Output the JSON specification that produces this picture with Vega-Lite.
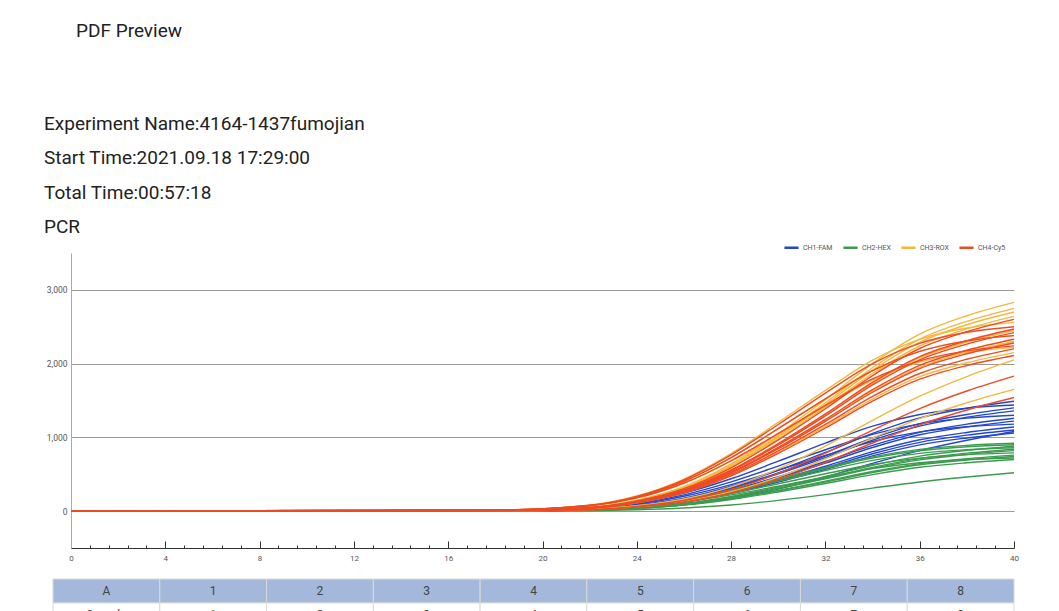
{
"$schema": "https://vega.github.io/schema/vega-lite/v6.json",
"background": "#ffffff",
"padding": {"left": 44, "top": 22, "right": 0, "bottom": 0},
"title": {"text": "PDF Preview", "anchor": "start", "dx": 32, "fontSize": 19, "fontWeight": "normal", "font": "Roboto", "color": "#222222", "offset": 74},
"spacing": 12,
"config": {"view": {"stroke": null}, "font": "Roboto"},
"datasets": {
"curves": [
{"ch":"CH1-FAM","id":"F1","c":0,"v":0},{"ch":"CH1-FAM","id":"F1","c":18,"v":6},{"ch":"CH1-FAM","id":"F1","c":22,"v":28},{"ch":"CH1-FAM","id":"F1","c":24,"v":79},{"ch":"CH1-FAM","id":"F1","c":26,"v":174},{"ch":"CH1-FAM","id":"F1","c":28,"v":337},{"ch":"CH1-FAM","id":"F1","c":30,"v":553},{"ch":"CH1-FAM","id":"F1","c":32,"v":796},{"ch":"CH1-FAM","id":"F1","c":34,"v":1053},{"ch":"CH1-FAM","id":"F1","c":36,"v":1264},{"ch":"CH1-FAM","id":"F1","c":38,"v":1395},{"ch":"CH1-FAM","id":"F1","c":40,"v":1490},
{"ch":"CH1-FAM","id":"F2","c":0,"v":0},{"ch":"CH1-FAM","id":"F2","c":18,"v":9},{"ch":"CH1-FAM","id":"F2","c":22,"v":46},{"ch":"CH1-FAM","id":"F2","c":24,"v":115},{"ch":"CH1-FAM","id":"F2","c":26,"v":245},{"ch":"CH1-FAM","id":"F2","c":28,"v":439},{"ch":"CH1-FAM","id":"F2","c":30,"v":677},{"ch":"CH1-FAM","id":"F2","c":32,"v":922},{"ch":"CH1-FAM","id":"F2","c":34,"v":1152},{"ch":"CH1-FAM","id":"F2","c":36,"v":1310},{"ch":"CH1-FAM","id":"F2","c":38,"v":1397},{"ch":"CH1-FAM","id":"F2","c":40,"v":1440},
{"ch":"CH1-FAM","id":"F3","c":0,"v":0},{"ch":"CH1-FAM","id":"F3","c":18,"v":6},{"ch":"CH1-FAM","id":"F3","c":22,"v":27},{"ch":"CH1-FAM","id":"F3","c":24,"v":74},{"ch":"CH1-FAM","id":"F3","c":26,"v":164},{"ch":"CH1-FAM","id":"F3","c":28,"v":316},{"ch":"CH1-FAM","id":"F3","c":30,"v":519},{"ch":"CH1-FAM","id":"F3","c":32,"v":748},{"ch":"CH1-FAM","id":"F3","c":34,"v":990},{"ch":"CH1-FAM","id":"F3","c":36,"v":1187},{"ch":"CH1-FAM","id":"F3","c":38,"v":1310},{"ch":"CH1-FAM","id":"F3","c":40,"v":1400},
{"ch":"CH1-FAM","id":"F4","c":0,"v":0},{"ch":"CH1-FAM","id":"F4","c":18,"v":5},{"ch":"CH1-FAM","id":"F4","c":22,"v":26},{"ch":"CH1-FAM","id":"F4","c":24,"v":72},{"ch":"CH1-FAM","id":"F4","c":26,"v":159},{"ch":"CH1-FAM","id":"F4","c":28,"v":307},{"ch":"CH1-FAM","id":"F4","c":30,"v":505},{"ch":"CH1-FAM","id":"F4","c":32,"v":726},{"ch":"CH1-FAM","id":"F4","c":34,"v":962},{"ch":"CH1-FAM","id":"F4","c":36,"v":1153},{"ch":"CH1-FAM","id":"F4","c":38,"v":1273},{"ch":"CH1-FAM","id":"F4","c":40,"v":1360},
{"ch":"CH1-FAM","id":"F5","c":0,"v":0},{"ch":"CH1-FAM","id":"F5","c":18,"v":8},{"ch":"CH1-FAM","id":"F5","c":22,"v":42},{"ch":"CH1-FAM","id":"F5","c":24,"v":104},{"ch":"CH1-FAM","id":"F5","c":26,"v":221},{"ch":"CH1-FAM","id":"F5","c":28,"v":397},{"ch":"CH1-FAM","id":"F5","c":30,"v":611},{"ch":"CH1-FAM","id":"F5","c":32,"v":832},{"ch":"CH1-FAM","id":"F5","c":34,"v":1040},{"ch":"CH1-FAM","id":"F5","c":36,"v":1183},{"ch":"CH1-FAM","id":"F5","c":38,"v":1261},{"ch":"CH1-FAM","id":"F5","c":40,"v":1300},
{"ch":"CH1-FAM","id":"F6","c":0,"v":0},{"ch":"CH1-FAM","id":"F6","c":18,"v":5},{"ch":"CH1-FAM","id":"F6","c":22,"v":24},{"ch":"CH1-FAM","id":"F6","c":24,"v":67},{"ch":"CH1-FAM","id":"F6","c":26,"v":147},{"ch":"CH1-FAM","id":"F6","c":28,"v":285},{"ch":"CH1-FAM","id":"F6","c":30,"v":467},{"ch":"CH1-FAM","id":"F6","c":32,"v":673},{"ch":"CH1-FAM","id":"F6","c":34,"v":891},{"ch":"CH1-FAM","id":"F6","c":36,"v":1068},{"ch":"CH1-FAM","id":"F6","c":38,"v":1179},{"ch":"CH1-FAM","id":"F6","c":40,"v":1260},
{"ch":"CH1-FAM","id":"F7","c":0,"v":0},{"ch":"CH1-FAM","id":"F7","c":18,"v":5},{"ch":"CH1-FAM","id":"F7","c":22,"v":23},{"ch":"CH1-FAM","id":"F7","c":24,"v":65},{"ch":"CH1-FAM","id":"F7","c":26,"v":143},{"ch":"CH1-FAM","id":"F7","c":28,"v":276},{"ch":"CH1-FAM","id":"F7","c":30,"v":453},{"ch":"CH1-FAM","id":"F7","c":32,"v":651},{"ch":"CH1-FAM","id":"F7","c":34,"v":863},{"ch":"CH1-FAM","id":"F7","c":36,"v":1035},{"ch":"CH1-FAM","id":"F7","c":38,"v":1142},{"ch":"CH1-FAM","id":"F7","c":40,"v":1220},
{"ch":"CH1-FAM","id":"F8","c":0,"v":0},{"ch":"CH1-FAM","id":"F8","c":18,"v":7},{"ch":"CH1-FAM","id":"F8","c":22,"v":38},{"ch":"CH1-FAM","id":"F8","c":24,"v":94},{"ch":"CH1-FAM","id":"F8","c":26,"v":201},{"ch":"CH1-FAM","id":"F8","c":28,"v":360},{"ch":"CH1-FAM","id":"F8","c":30,"v":555},{"ch":"CH1-FAM","id":"F8","c":32,"v":755},{"ch":"CH1-FAM","id":"F8","c":34,"v":944},{"ch":"CH1-FAM","id":"F8","c":36,"v":1074},{"ch":"CH1-FAM","id":"F8","c":38,"v":1145},{"ch":"CH1-FAM","id":"F8","c":40,"v":1180},
{"ch":"CH1-FAM","id":"F9","c":0,"v":0},{"ch":"CH1-FAM","id":"F9","c":18,"v":5},{"ch":"CH1-FAM","id":"F9","c":22,"v":22},{"ch":"CH1-FAM","id":"F9","c":24,"v":60},{"ch":"CH1-FAM","id":"F9","c":26,"v":133},{"ch":"CH1-FAM","id":"F9","c":28,"v":258},{"ch":"CH1-FAM","id":"F9","c":30,"v":423},{"ch":"CH1-FAM","id":"F9","c":32,"v":609},{"ch":"CH1-FAM","id":"F9","c":34,"v":806},{"ch":"CH1-FAM","id":"F9","c":36,"v":967},{"ch":"CH1-FAM","id":"F9","c":38,"v":1067},{"ch":"CH1-FAM","id":"F9","c":40,"v":1140},
{"ch":"CH1-FAM","id":"F10","c":0,"v":0},{"ch":"CH1-FAM","id":"F10","c":18,"v":4},{"ch":"CH1-FAM","id":"F10","c":22,"v":21},{"ch":"CH1-FAM","id":"F10","c":24,"v":58},{"ch":"CH1-FAM","id":"F10","c":26,"v":129},{"ch":"CH1-FAM","id":"F10","c":28,"v":249},{"ch":"CH1-FAM","id":"F10","c":30,"v":408},{"ch":"CH1-FAM","id":"F10","c":32,"v":587},{"ch":"CH1-FAM","id":"F10","c":34,"v":778},{"ch":"CH1-FAM","id":"F10","c":36,"v":933},{"ch":"CH1-FAM","id":"F10","c":38,"v":1030},{"ch":"CH1-FAM","id":"F10","c":40,"v":1100},
{"ch":"CH1-FAM","id":"F11","c":0,"v":0},{"ch":"CH1-FAM","id":"F11","c":18,"v":3},{"ch":"CH1-FAM","id":"F11","c":22,"v":13},{"ch":"CH1-FAM","id":"F11","c":24,"v":38},{"ch":"CH1-FAM","id":"F11","c":26,"v":86},{"ch":"CH1-FAM","id":"F11","c":28,"v":173},{"ch":"CH1-FAM","id":"F11","c":30,"v":302},{"ch":"CH1-FAM","id":"F11","c":32,"v":464},{"ch":"CH1-FAM","id":"F11","c":34,"v":648},{"ch":"CH1-FAM","id":"F11","c":36,"v":821},{"ch":"CH1-FAM","id":"F11","c":38,"v":961},{"ch":"CH1-FAM","id":"F11","c":40,"v":1080},
{"ch":"CH1-FAM","id":"F12","c":0,"v":0},{"ch":"CH1-FAM","id":"F12","c":18,"v":4},{"ch":"CH1-FAM","id":"F12","c":22,"v":20},{"ch":"CH1-FAM","id":"F12","c":24,"v":56},{"ch":"CH1-FAM","id":"F12","c":26,"v":124},{"ch":"CH1-FAM","id":"F12","c":28,"v":240},{"ch":"CH1-FAM","id":"F12","c":30,"v":393},{"ch":"CH1-FAM","id":"F12","c":32,"v":566},{"ch":"CH1-FAM","id":"F12","c":34,"v":749},{"ch":"CH1-FAM","id":"F12","c":36,"v":899},{"ch":"CH1-FAM","id":"F12","c":38,"v":992},{"ch":"CH1-FAM","id":"F12","c":40,"v":1060},
{"ch":"CH2-HEX","id":"H1","c":0,"v":0},{"ch":"CH2-HEX","id":"H1","c":18,"v":6},{"ch":"CH2-HEX","id":"H1","c":22,"v":29},{"ch":"CH2-HEX","id":"H1","c":24,"v":74},{"ch":"CH2-HEX","id":"H1","c":26,"v":156},{"ch":"CH2-HEX","id":"H1","c":28,"v":281},{"ch":"CH2-HEX","id":"H1","c":30,"v":432},{"ch":"CH2-HEX","id":"H1","c":32,"v":589},{"ch":"CH2-HEX","id":"H1","c":34,"v":736},{"ch":"CH2-HEX","id":"H1","c":36,"v":837},{"ch":"CH2-HEX","id":"H1","c":38,"v":892},{"ch":"CH2-HEX","id":"H1","c":40,"v":920},
{"ch":"CH2-HEX","id":"H2","c":0,"v":0},{"ch":"CH2-HEX","id":"H2","c":18,"v":5},{"ch":"CH2-HEX","id":"H2","c":22,"v":29},{"ch":"CH2-HEX","id":"H2","c":24,"v":72},{"ch":"CH2-HEX","id":"H2","c":26,"v":153},{"ch":"CH2-HEX","id":"H2","c":28,"v":275},{"ch":"CH2-HEX","id":"H2","c":30,"v":423},{"ch":"CH2-HEX","id":"H2","c":32,"v":576},{"ch":"CH2-HEX","id":"H2","c":34,"v":720},{"ch":"CH2-HEX","id":"H2","c":36,"v":819},{"ch":"CH2-HEX","id":"H2","c":38,"v":873},{"ch":"CH2-HEX","id":"H2","c":40,"v":900},
{"ch":"CH2-HEX","id":"H3","c":0,"v":0},{"ch":"CH2-HEX","id":"H3","c":18,"v":4},{"ch":"CH2-HEX","id":"H3","c":22,"v":17},{"ch":"CH2-HEX","id":"H3","c":24,"v":47},{"ch":"CH2-HEX","id":"H3","c":26,"v":103},{"ch":"CH2-HEX","id":"H3","c":28,"v":199},{"ch":"CH2-HEX","id":"H3","c":30,"v":326},{"ch":"CH2-HEX","id":"H3","c":32,"v":470},{"ch":"CH2-HEX","id":"H3","c":34,"v":622},{"ch":"CH2-HEX","id":"H3","c":36,"v":746},{"ch":"CH2-HEX","id":"H3","c":38,"v":824},{"ch":"CH2-HEX","id":"H3","c":40,"v":880},
{"ch":"CH2-HEX","id":"H4","c":0,"v":0},{"ch":"CH2-HEX","id":"H4","c":18,"v":5},{"ch":"CH2-HEX","id":"H4","c":22,"v":28},{"ch":"CH2-HEX","id":"H4","c":24,"v":69},{"ch":"CH2-HEX","id":"H4","c":26,"v":146},{"ch":"CH2-HEX","id":"H4","c":28,"v":262},{"ch":"CH2-HEX","id":"H4","c":30,"v":404},{"ch":"CH2-HEX","id":"H4","c":32,"v":550},{"ch":"CH2-HEX","id":"H4","c":34,"v":688},{"ch":"CH2-HEX","id":"H4","c":36,"v":783},{"ch":"CH2-HEX","id":"H4","c":38,"v":834},{"ch":"CH2-HEX","id":"H4","c":40,"v":860},
{"ch":"CH2-HEX","id":"H5","c":0,"v":0},{"ch":"CH2-HEX","id":"H5","c":18,"v":3},{"ch":"CH2-HEX","id":"H5","c":22,"v":16},{"ch":"CH2-HEX","id":"H5","c":24,"v":45},{"ch":"CH2-HEX","id":"H5","c":26,"v":98},{"ch":"CH2-HEX","id":"H5","c":28,"v":190},{"ch":"CH2-HEX","id":"H5","c":30,"v":312},{"ch":"CH2-HEX","id":"H5","c":32,"v":449},{"ch":"CH2-HEX","id":"H5","c":34,"v":594},{"ch":"CH2-HEX","id":"H5","c":36,"v":712},{"ch":"CH2-HEX","id":"H5","c":38,"v":786},{"ch":"CH2-HEX","id":"H5","c":40,"v":840},
{"ch":"CH2-HEX","id":"H6","c":0,"v":0},{"ch":"CH2-HEX","id":"H6","c":18,"v":3},{"ch":"CH2-HEX","id":"H6","c":22,"v":16},{"ch":"CH2-HEX","id":"H6","c":24,"v":43},{"ch":"CH2-HEX","id":"H6","c":26,"v":96},{"ch":"CH2-HEX","id":"H6","c":28,"v":185},{"ch":"CH2-HEX","id":"H6","c":30,"v":304},{"ch":"CH2-HEX","id":"H6","c":32,"v":438},{"ch":"CH2-HEX","id":"H6","c":34,"v":580},{"ch":"CH2-HEX","id":"H6","c":36,"v":695},{"ch":"CH2-HEX","id":"H6","c":38,"v":768},{"ch":"CH2-HEX","id":"H6","c":40,"v":820},
{"ch":"CH2-HEX","id":"H7","c":0,"v":0},{"ch":"CH2-HEX","id":"H7","c":18,"v":5},{"ch":"CH2-HEX","id":"H7","c":22,"v":25},{"ch":"CH2-HEX","id":"H7","c":24,"v":63},{"ch":"CH2-HEX","id":"H7","c":26,"v":134},{"ch":"CH2-HEX","id":"H7","c":28,"v":241},{"ch":"CH2-HEX","id":"H7","c":30,"v":371},{"ch":"CH2-HEX","id":"H7","c":32,"v":506},{"ch":"CH2-HEX","id":"H7","c":34,"v":632},{"ch":"CH2-HEX","id":"H7","c":36,"v":719},{"ch":"CH2-HEX","id":"H7","c":38,"v":766},{"ch":"CH2-HEX","id":"H7","c":40,"v":790},
{"ch":"CH2-HEX","id":"H8","c":0,"v":0},{"ch":"CH2-HEX","id":"H8","c":18,"v":3},{"ch":"CH2-HEX","id":"H8","c":22,"v":14},{"ch":"CH2-HEX","id":"H8","c":24,"v":40},{"ch":"CH2-HEX","id":"H8","c":26,"v":89},{"ch":"CH2-HEX","id":"H8","c":28,"v":172},{"ch":"CH2-HEX","id":"H8","c":30,"v":282},{"ch":"CH2-HEX","id":"H8","c":32,"v":406},{"ch":"CH2-HEX","id":"H8","c":34,"v":537},{"ch":"CH2-HEX","id":"H8","c":36,"v":644},{"ch":"CH2-HEX","id":"H8","c":38,"v":711},{"ch":"CH2-HEX","id":"H8","c":40,"v":760},
{"ch":"CH2-HEX","id":"H9","c":0,"v":0},{"ch":"CH2-HEX","id":"H9","c":18,"v":3},{"ch":"CH2-HEX","id":"H9","c":22,"v":14},{"ch":"CH2-HEX","id":"H9","c":24,"v":39},{"ch":"CH2-HEX","id":"H9","c":26,"v":87},{"ch":"CH2-HEX","id":"H9","c":28,"v":167},{"ch":"CH2-HEX","id":"H9","c":30,"v":275},{"ch":"CH2-HEX","id":"H9","c":32,"v":395},{"ch":"CH2-HEX","id":"H9","c":34,"v":523},{"ch":"CH2-HEX","id":"H9","c":36,"v":628},{"ch":"CH2-HEX","id":"H9","c":38,"v":693},{"ch":"CH2-HEX","id":"H9","c":40,"v":740},
{"ch":"CH2-HEX","id":"H10","c":0,"v":0},{"ch":"CH2-HEX","id":"H10","c":18,"v":4},{"ch":"CH2-HEX","id":"H10","c":22,"v":23},{"ch":"CH2-HEX","id":"H10","c":24,"v":58},{"ch":"CH2-HEX","id":"H10","c":26,"v":122},{"ch":"CH2-HEX","id":"H10","c":28,"v":220},{"ch":"CH2-HEX","id":"H10","c":30,"v":338},{"ch":"CH2-HEX","id":"H10","c":32,"v":461},{"ch":"CH2-HEX","id":"H10","c":34,"v":576},{"ch":"CH2-HEX","id":"H10","c":36,"v":655},{"ch":"CH2-HEX","id":"H10","c":38,"v":698},{"ch":"CH2-HEX","id":"H10","c":40,"v":720},
{"ch":"CH2-HEX","id":"H11","c":0,"v":0},{"ch":"CH2-HEX","id":"H11","c":18,"v":3},{"ch":"CH2-HEX","id":"H11","c":22,"v":13},{"ch":"CH2-HEX","id":"H11","c":24,"v":37},{"ch":"CH2-HEX","id":"H11","c":26,"v":82},{"ch":"CH2-HEX","id":"H11","c":28,"v":158},{"ch":"CH2-HEX","id":"H11","c":30,"v":260},{"ch":"CH2-HEX","id":"H11","c":32,"v":374},{"ch":"CH2-HEX","id":"H11","c":34,"v":495},{"ch":"CH2-HEX","id":"H11","c":36,"v":594},{"ch":"CH2-HEX","id":"H11","c":38,"v":655},{"ch":"CH2-HEX","id":"H11","c":40,"v":700},
{"ch":"CH2-HEX","id":"H12","c":0,"v":0},{"ch":"CH2-HEX","id":"H12","c":18,"v":2},{"ch":"CH2-HEX","id":"H12","c":22,"v":6},{"ch":"CH2-HEX","id":"H12","c":24,"v":18},{"ch":"CH2-HEX","id":"H12","c":26,"v":42},{"ch":"CH2-HEX","id":"H12","c":28,"v":83},{"ch":"CH2-HEX","id":"H12","c":30,"v":146},{"ch":"CH2-HEX","id":"H12","c":32,"v":224},{"ch":"CH2-HEX","id":"H12","c":34,"v":312},{"ch":"CH2-HEX","id":"H12","c":36,"v":395},{"ch":"CH2-HEX","id":"H12","c":38,"v":463},{"ch":"CH2-HEX","id":"H12","c":40,"v":520},
{"ch":"CH3-ROX","id":"R1","c":0,"v":0},{"ch":"CH3-ROX","id":"R1","c":18,"v":11},{"ch":"CH3-ROX","id":"R1","c":22,"v":54},{"ch":"CH3-ROX","id":"R1","c":24,"v":150},{"ch":"CH3-ROX","id":"R1","c":26,"v":331},{"ch":"CH3-ROX","id":"R1","c":28,"v":640},{"ch":"CH3-ROX","id":"R1","c":30,"v":1050},{"ch":"CH3-ROX","id":"R1","c":32,"v":1511},{"ch":"CH3-ROX","id":"R1","c":34,"v":2001},{"ch":"CH3-ROX","id":"R1","c":36,"v":2400},{"ch":"CH3-ROX","id":"R1","c":38,"v":2649},{"ch":"CH3-ROX","id":"R1","c":40,"v":2830},
{"ch":"CH3-ROX","id":"R2","c":0,"v":0},{"ch":"CH3-ROX","id":"R2","c":18,"v":11},{"ch":"CH3-ROX","id":"R2","c":22,"v":52},{"ch":"CH3-ROX","id":"R2","c":24,"v":146},{"ch":"CH3-ROX","id":"R2","c":26,"v":322},{"ch":"CH3-ROX","id":"R2","c":28,"v":622},{"ch":"CH3-ROX","id":"R2","c":30,"v":1020},{"ch":"CH3-ROX","id":"R2","c":32,"v":1469},{"ch":"CH3-ROX","id":"R2","c":34,"v":1944},{"ch":"CH3-ROX","id":"R2","c":36,"v":2332},{"ch":"CH3-ROX","id":"R2","c":38,"v":2574},{"ch":"CH3-ROX","id":"R2","c":40,"v":2750},
{"ch":"CH3-ROX","id":"R3","c":0,"v":0},{"ch":"CH3-ROX","id":"R3","c":18,"v":11},{"ch":"CH3-ROX","id":"R3","c":22,"v":51},{"ch":"CH3-ROX","id":"R3","c":24,"v":143},{"ch":"CH3-ROX","id":"R3","c":26,"v":316},{"ch":"CH3-ROX","id":"R3","c":28,"v":610},{"ch":"CH3-ROX","id":"R3","c":30,"v":1002},{"ch":"CH3-ROX","id":"R3","c":32,"v":1442},{"ch":"CH3-ROX","id":"R3","c":34,"v":1909},{"ch":"CH3-ROX","id":"R3","c":36,"v":2290},{"ch":"CH3-ROX","id":"R3","c":38,"v":2527},{"ch":"CH3-ROX","id":"R3","c":40,"v":2700},
{"ch":"CH3-ROX","id":"R4","c":0,"v":0},{"ch":"CH3-ROX","id":"R4","c":18,"v":11},{"ch":"CH3-ROX","id":"R4","c":22,"v":50},{"ch":"CH3-ROX","id":"R4","c":24,"v":140},{"ch":"CH3-ROX","id":"R4","c":26,"v":309},{"ch":"CH3-ROX","id":"R4","c":28,"v":597},{"ch":"CH3-ROX","id":"R4","c":30,"v":979},{"ch":"CH3-ROX","id":"R4","c":32,"v":1410},{"ch":"CH3-ROX","id":"R4","c":34,"v":1866},{"ch":"CH3-ROX","id":"R4","c":36,"v":2239},{"ch":"CH3-ROX","id":"R4","c":38,"v":2471},{"ch":"CH3-ROX","id":"R4","c":40,"v":2640},
{"ch":"CH3-ROX","id":"R5","c":0,"v":0},{"ch":"CH3-ROX","id":"R5","c":18,"v":15},{"ch":"CH3-ROX","id":"R5","c":22,"v":82},{"ch":"CH3-ROX","id":"R5","c":24,"v":205},{"ch":"CH3-ROX","id":"R5","c":26,"v":435},{"ch":"CH3-ROX","id":"R5","c":28,"v":781},{"ch":"CH3-ROX","id":"R5","c":30,"v":1203},{"ch":"CH3-ROX","id":"R5","c":32,"v":1638},{"ch":"CH3-ROX","id":"R5","c":34,"v":2048},{"ch":"CH3-ROX","id":"R5","c":36,"v":2330},{"ch":"CH3-ROX","id":"R5","c":38,"v":2483},{"ch":"CH3-ROX","id":"R5","c":40,"v":2560},
{"ch":"CH3-ROX","id":"R6","c":0,"v":0},{"ch":"CH3-ROX","id":"R6","c":18,"v":10},{"ch":"CH3-ROX","id":"R6","c":22,"v":47},{"ch":"CH3-ROX","id":"R6","c":24,"v":130},{"ch":"CH3-ROX","id":"R6","c":26,"v":287},{"ch":"CH3-ROX","id":"R6","c":28,"v":554},{"ch":"CH3-ROX","id":"R6","c":30,"v":909},{"ch":"CH3-ROX","id":"R6","c":32,"v":1308},{"ch":"CH3-ROX","id":"R6","c":34,"v":1732},{"ch":"CH3-ROX","id":"R6","c":36,"v":2078},{"ch":"CH3-ROX","id":"R6","c":38,"v":2293},{"ch":"CH3-ROX","id":"R6","c":40,"v":2450},
{"ch":"CH3-ROX","id":"R7","c":0,"v":0},{"ch":"CH3-ROX","id":"R7","c":18,"v":14},{"ch":"CH3-ROX","id":"R7","c":22,"v":76},{"ch":"CH3-ROX","id":"R7","c":24,"v":190},{"ch":"CH3-ROX","id":"R7","c":26,"v":405},{"ch":"CH3-ROX","id":"R7","c":28,"v":726},{"ch":"CH3-ROX","id":"R7","c":30,"v":1119},{"ch":"CH3-ROX","id":"R7","c":32,"v":1523},{"ch":"CH3-ROX","id":"R7","c":34,"v":1904},{"ch":"CH3-ROX","id":"R7","c":36,"v":2166},{"ch":"CH3-ROX","id":"R7","c":38,"v":2309},{"ch":"CH3-ROX","id":"R7","c":40,"v":2380},
{"ch":"CH3-ROX","id":"R8","c":0,"v":0},{"ch":"CH3-ROX","id":"R8","c":18,"v":9},{"ch":"CH3-ROX","id":"R8","c":22,"v":44},{"ch":"CH3-ROX","id":"R8","c":24,"v":122},{"ch":"CH3-ROX","id":"R8","c":26,"v":269},{"ch":"CH3-ROX","id":"R8","c":28,"v":520},{"ch":"CH3-ROX","id":"R8","c":30,"v":853},{"ch":"CH3-ROX","id":"R8","c":32,"v":1228},{"ch":"CH3-ROX","id":"R8","c":34,"v":1626},{"ch":"CH3-ROX","id":"R8","c":36,"v":1950},{"ch":"CH3-ROX","id":"R8","c":38,"v":2153},{"ch":"CH3-ROX","id":"R8","c":40,"v":2300},
{"ch":"CH3-ROX","id":"R9","c":0,"v":0},{"ch":"CH3-ROX","id":"R9","c":18,"v":13},{"ch":"CH3-ROX","id":"R9","c":22,"v":71},{"ch":"CH3-ROX","id":"R9","c":24,"v":178},{"ch":"CH3-ROX","id":"R9","c":26,"v":377},{"ch":"CH3-ROX","id":"R9","c":28,"v":677},{"ch":"CH3-ROX","id":"R9","c":30,"v":1043},{"ch":"CH3-ROX","id":"R9","c":32,"v":1421},{"ch":"CH3-ROX","id":"R9","c":34,"v":1776},{"ch":"CH3-ROX","id":"R9","c":36,"v":2020},{"ch":"CH3-ROX","id":"R9","c":38,"v":2153},{"ch":"CH3-ROX","id":"R9","c":40,"v":2220},
{"ch":"CH3-ROX","id":"R10","c":0,"v":0},{"ch":"CH3-ROX","id":"R10","c":18,"v":9},{"ch":"CH3-ROX","id":"R10","c":22,"v":41},{"ch":"CH3-ROX","id":"R10","c":24,"v":114},{"ch":"CH3-ROX","id":"R10","c":26,"v":252},{"ch":"CH3-ROX","id":"R10","c":28,"v":486},{"ch":"CH3-ROX","id":"R10","c":30,"v":798},{"ch":"CH3-ROX","id":"R10","c":32,"v":1148},{"ch":"CH3-ROX","id":"R10","c":34,"v":1520},{"ch":"CH3-ROX","id":"R10","c":36,"v":1823},{"ch":"CH3-ROX","id":"R10","c":38,"v":2012},{"ch":"CH3-ROX","id":"R10","c":40,"v":2150},
{"ch":"CH3-ROX","id":"R11","c":0,"v":0},{"ch":"CH3-ROX","id":"R11","c":18,"v":6},{"ch":"CH3-ROX","id":"R11","c":22,"v":25},{"ch":"CH3-ROX","id":"R11","c":24,"v":72},{"ch":"CH3-ROX","id":"R11","c":26,"v":164},{"ch":"CH3-ROX","id":"R11","c":28,"v":328},{"ch":"CH3-ROX","id":"R11","c":30,"v":574},{"ch":"CH3-ROX","id":"R11","c":32,"v":882},{"ch":"CH3-ROX","id":"R11","c":34,"v":1230},{"ch":"CH3-ROX","id":"R11","c":36,"v":1558},{"ch":"CH3-ROX","id":"R11","c":38,"v":1825},{"ch":"CH3-ROX","id":"R11","c":40,"v":2050},
{"ch":"CH3-ROX","id":"R12","c":0,"v":0},{"ch":"CH3-ROX","id":"R12","c":18,"v":5},{"ch":"CH3-ROX","id":"R12","c":22,"v":20},{"ch":"CH3-ROX","id":"R12","c":24,"v":58},{"ch":"CH3-ROX","id":"R12","c":26,"v":132},{"ch":"CH3-ROX","id":"R12","c":28,"v":264},{"ch":"CH3-ROX","id":"R12","c":30,"v":462},{"ch":"CH3-ROX","id":"R12","c":32,"v":710},{"ch":"CH3-ROX","id":"R12","c":34,"v":990},{"ch":"CH3-ROX","id":"R12","c":36,"v":1254},{"ch":"CH3-ROX","id":"R12","c":38,"v":1469},{"ch":"CH3-ROX","id":"R12","c":40,"v":1650},
{"ch":"CH4-Cy5","id":"C1","c":0,"v":0},{"ch":"CH4-Cy5","id":"C1","c":18,"v":10},{"ch":"CH4-Cy5","id":"C1","c":22,"v":49},{"ch":"CH4-Cy5","id":"C1","c":24,"v":138},{"ch":"CH4-Cy5","id":"C1","c":26,"v":304},{"ch":"CH4-Cy5","id":"C1","c":28,"v":588},{"ch":"CH4-Cy5","id":"C1","c":30,"v":965},{"ch":"CH4-Cy5","id":"C1","c":32,"v":1388},{"ch":"CH4-Cy5","id":"C1","c":34,"v":1838},{"ch":"CH4-Cy5","id":"C1","c":36,"v":2205},{"ch":"CH4-Cy5","id":"C1","c":38,"v":2434},{"ch":"CH4-Cy5","id":"C1","c":40,"v":2600},
{"ch":"CH4-Cy5","id":"C2","c":0,"v":0},{"ch":"CH4-Cy5","id":"C2","c":18,"v":15},{"ch":"CH4-Cy5","id":"C2","c":22,"v":80},{"ch":"CH4-Cy5","id":"C2","c":24,"v":200},{"ch":"CH4-Cy5","id":"C2","c":26,"v":425},{"ch":"CH4-Cy5","id":"C2","c":28,"v":763},{"ch":"CH4-Cy5","id":"C2","c":30,"v":1175},{"ch":"CH4-Cy5","id":"C2","c":32,"v":1600},{"ch":"CH4-Cy5","id":"C2","c":34,"v":2000},{"ch":"CH4-Cy5","id":"C2","c":36,"v":2275},{"ch":"CH4-Cy5","id":"C2","c":38,"v":2425},{"ch":"CH4-Cy5","id":"C2","c":40,"v":2500},
{"ch":"CH4-Cy5","id":"C3","c":0,"v":0},{"ch":"CH4-Cy5","id":"C3","c":18,"v":10},{"ch":"CH4-Cy5","id":"C3","c":22,"v":47},{"ch":"CH4-Cy5","id":"C3","c":24,"v":131},{"ch":"CH4-Cy5","id":"C3","c":26,"v":289},{"ch":"CH4-Cy5","id":"C3","c":28,"v":558},{"ch":"CH4-Cy5","id":"C3","c":30,"v":916},{"ch":"CH4-Cy5","id":"C3","c":32,"v":1319},{"ch":"CH4-Cy5","id":"C3","c":34,"v":1746},{"ch":"CH4-Cy5","id":"C3","c":36,"v":2095},{"ch":"CH4-Cy5","id":"C3","c":38,"v":2312},{"ch":"CH4-Cy5","id":"C3","c":40,"v":2470},
{"ch":"CH4-Cy5","id":"C4","c":0,"v":0},{"ch":"CH4-Cy5","id":"C4","c":18,"v":10},{"ch":"CH4-Cy5","id":"C4","c":22,"v":46},{"ch":"CH4-Cy5","id":"C4","c":24,"v":128},{"ch":"CH4-Cy5","id":"C4","c":26,"v":283},{"ch":"CH4-Cy5","id":"C4","c":28,"v":547},{"ch":"CH4-Cy5","id":"C4","c":30,"v":898},{"ch":"CH4-Cy5","id":"C4","c":32,"v":1292},{"ch":"CH4-Cy5","id":"C4","c":34,"v":1711},{"ch":"CH4-Cy5","id":"C4","c":36,"v":2052},{"ch":"CH4-Cy5","id":"C4","c":38,"v":2265},{"ch":"CH4-Cy5","id":"C4","c":40,"v":2420},
{"ch":"CH4-Cy5","id":"C5","c":0,"v":0},{"ch":"CH4-Cy5","id":"C5","c":18,"v":14},{"ch":"CH4-Cy5","id":"C5","c":22,"v":76},{"ch":"CH4-Cy5","id":"C5","c":24,"v":190},{"ch":"CH4-Cy5","id":"C5","c":26,"v":405},{"ch":"CH4-Cy5","id":"C5","c":28,"v":726},{"ch":"CH4-Cy5","id":"C5","c":30,"v":1119},{"ch":"CH4-Cy5","id":"C5","c":32,"v":1523},{"ch":"CH4-Cy5","id":"C5","c":34,"v":1904},{"ch":"CH4-Cy5","id":"C5","c":36,"v":2166},{"ch":"CH4-Cy5","id":"C5","c":38,"v":2309},{"ch":"CH4-Cy5","id":"C5","c":40,"v":2380},
{"ch":"CH4-Cy5","id":"C6","c":0,"v":0},{"ch":"CH4-Cy5","id":"C6","c":18,"v":9},{"ch":"CH4-Cy5","id":"C6","c":22,"v":44},{"ch":"CH4-Cy5","id":"C6","c":24,"v":123},{"ch":"CH4-Cy5","id":"C6","c":26,"v":273},{"ch":"CH4-Cy5","id":"C6","c":28,"v":527},{"ch":"CH4-Cy5","id":"C6","c":30,"v":864},{"ch":"CH4-Cy5","id":"C6","c":32,"v":1244},{"ch":"CH4-Cy5","id":"C6","c":34,"v":1647},{"ch":"CH4-Cy5","id":"C6","c":36,"v":1976},{"ch":"CH4-Cy5","id":"C6","c":38,"v":2181},{"ch":"CH4-Cy5","id":"C6","c":40,"v":2330},
{"ch":"CH4-Cy5","id":"C7","c":0,"v":0},{"ch":"CH4-Cy5","id":"C7","c":18,"v":9},{"ch":"CH4-Cy5","id":"C7","c":22,"v":43},{"ch":"CH4-Cy5","id":"C7","c":24,"v":121},{"ch":"CH4-Cy5","id":"C7","c":26,"v":267},{"ch":"CH4-Cy5","id":"C7","c":28,"v":515},{"ch":"CH4-Cy5","id":"C7","c":30,"v":846},{"ch":"CH4-Cy5","id":"C7","c":32,"v":1218},{"ch":"CH4-Cy5","id":"C7","c":34,"v":1612},{"ch":"CH4-Cy5","id":"C7","c":36,"v":1933},{"ch":"CH4-Cy5","id":"C7","c":38,"v":2134},{"ch":"CH4-Cy5","id":"C7","c":40,"v":2280},
{"ch":"CH4-Cy5","id":"C8","c":0,"v":0},{"ch":"CH4-Cy5","id":"C8","c":18,"v":13},{"ch":"CH4-Cy5","id":"C8","c":22,"v":72},{"ch":"CH4-Cy5","id":"C8","c":24,"v":179},{"ch":"CH4-Cy5","id":"C8","c":26,"v":381},{"ch":"CH4-Cy5","id":"C8","c":28,"v":683},{"ch":"CH4-Cy5","id":"C8","c":30,"v":1053},{"ch":"CH4-Cy5","id":"C8","c":32,"v":1434},{"ch":"CH4-Cy5","id":"C8","c":34,"v":1792},{"ch":"CH4-Cy5","id":"C8","c":36,"v":2038},{"ch":"CH4-Cy5","id":"C8","c":38,"v":2173},{"ch":"CH4-Cy5","id":"C8","c":40,"v":2240},
{"ch":"CH4-Cy5","id":"C9","c":0,"v":0},{"ch":"CH4-Cy5","id":"C9","c":18,"v":9},{"ch":"CH4-Cy5","id":"C9","c":22,"v":42},{"ch":"CH4-Cy5","id":"C9","c":24,"v":117},{"ch":"CH4-Cy5","id":"C9","c":26,"v":257},{"ch":"CH4-Cy5","id":"C9","c":28,"v":497},{"ch":"CH4-Cy5","id":"C9","c":30,"v":816},{"ch":"CH4-Cy5","id":"C9","c":32,"v":1175},{"ch":"CH4-Cy5","id":"C9","c":34,"v":1555},{"ch":"CH4-Cy5","id":"C9","c":36,"v":1866},{"ch":"CH4-Cy5","id":"C9","c":38,"v":2059},{"ch":"CH4-Cy5","id":"C9","c":40,"v":2200},
{"ch":"CH4-Cy5","id":"C10","c":0,"v":0},{"ch":"CH4-Cy5","id":"C10","c":18,"v":8},{"ch":"CH4-Cy5","id":"C10","c":22,"v":40},{"ch":"CH4-Cy5","id":"C10","c":24,"v":112},{"ch":"CH4-Cy5","id":"C10","c":26,"v":247},{"ch":"CH4-Cy5","id":"C10","c":28,"v":477},{"ch":"CH4-Cy5","id":"C10","c":30,"v":783},{"ch":"CH4-Cy5","id":"C10","c":32,"v":1127},{"ch":"CH4-Cy5","id":"C10","c":34,"v":1492},{"ch":"CH4-Cy5","id":"C10","c":36,"v":1789},{"ch":"CH4-Cy5","id":"C10","c":38,"v":1975},{"ch":"CH4-Cy5","id":"C10","c":40,"v":2110},
{"ch":"CH4-Cy5","id":"C11","c":0,"v":0},{"ch":"CH4-Cy5","id":"C11","c":18,"v":5},{"ch":"CH4-Cy5","id":"C11","c":22,"v":22},{"ch":"CH4-Cy5","id":"C11","c":24,"v":64},{"ch":"CH4-Cy5","id":"C11","c":26,"v":146},{"ch":"CH4-Cy5","id":"C11","c":28,"v":293},{"ch":"CH4-Cy5","id":"C11","c":30,"v":512},{"ch":"CH4-Cy5","id":"C11","c":32,"v":787},{"ch":"CH4-Cy5","id":"C11","c":34,"v":1098},{"ch":"CH4-Cy5","id":"C11","c":36,"v":1391},{"ch":"CH4-Cy5","id":"C11","c":38,"v":1629},{"ch":"CH4-Cy5","id":"C11","c":40,"v":1830},
{"ch":"CH4-Cy5","id":"C12","c":0,"v":0},{"ch":"CH4-Cy5","id":"C12","c":18,"v":5},{"ch":"CH4-Cy5","id":"C12","c":22,"v":18},{"ch":"CH4-Cy5","id":"C12","c":24,"v":54},{"ch":"CH4-Cy5","id":"C12","c":26,"v":123},{"ch":"CH4-Cy5","id":"C12","c":28,"v":246},{"ch":"CH4-Cy5","id":"C12","c":30,"v":431},{"ch":"CH4-Cy5","id":"C12","c":32,"v":662},{"ch":"CH4-Cy5","id":"C12","c":34,"v":924},{"ch":"CH4-Cy5","id":"C12","c":36,"v":1170},{"ch":"CH4-Cy5","id":"C12","c":38,"v":1371},{"ch":"CH4-Cy5","id":"C12","c":40,"v":1540}
],
"table": [
{"col":"A","row":"h","t":"A"},{"col":"1","row":"h","t":"1"},{"col":"2","row":"h","t":"2"},{"col":"3","row":"h","t":"3"},{"col":"4","row":"h","t":"4"},{"col":"5","row":"h","t":"5"},{"col":"6","row":"h","t":"6"},{"col":"7","row":"h","t":"7"},{"col":"8","row":"h","t":"8"},
{"col":"A","row":"r","t":"Sample"},{"col":"1","row":"r","t":"1"},{"col":"2","row":"r","t":"2"},{"col":"3","row":"r","t":"3"},{"col":"4","row":"r","t":"4"},{"col":"5","row":"r","t":"5"},{"col":"6","row":"r","t":"6"},{"col":"7","row":"r","t":"7"},{"col":"8","row":"r","t":"8"}
]
},
"vconcat": [
{
"width": 943,
"height": 295,
"title": {"text": "Experiment Name:4164-1437fumojian", "subtitle": ["Start Time:2021.09.18 17:29:00", "Total Time:00:57:18", "PCR"], "anchor": "start", "frame": "group", "dx": -27, "font": "Roboto", "fontSize": 19, "fontWeight": "normal", "color": "#222222", "subtitleFont": "Roboto", "subtitleFontSize": 19, "subtitleColor": "#222222", "subtitleLineHeight": 34.5, "subtitlePadding": 15, "offset": 16},
"data": {"name": "curves"},
"mark": {"type": "line", "interpolate": "monotone", "strokeWidth": 1.4},
"encoding": {
"x": {"field": "c", "type": "quantitative", "scale": {"domain": [0, 40], "nice": false, "zero": false},
"axis": {"title": null, "grid": false, "values": [0,0.8,1.6,2.4,3.2,4,4.8,5.6,6.4,7.2,8,8.8,9.6,10.4,11.2,12,12.8,13.6,14.4,15.2,16,16.8,17.6,18.4,19.2,20,20.8,21.6,22.4,23.2,24,24.8,25.6,26.4,27.2,28,28.8,29.6,30.4,31.2,32,32.8,33.6,34.4,35.2,36,36.8,37.6,38.4,39.2,40],
"labelExpr": "datum.value % 4 === 0 ? datum.label : ''", "labelOverlap": false, "labelFlush": false, "labelFontSize": 8, "labelColor": "#555555", "labelPadding": 13, "domainColor": "#333333", "tickColor": "#333333",
"tickSize": {"condition": {"test": "datum.value % 4 === 0", "value": -7}, "value": -3}}},
"y": {"field": "v", "type": "quantitative", "scale": {"domain": [-500, 3500], "nice": false},
"axis": {"title": null, "values": [0, 1000, 2000, 3000], "grid": true, "gridColor": "#9a9a9a", "ticks": false, "domainColor": "#aaaaaa", "labelFontSize": 8.5, "labelColor": "#555555", "labelPadding": 4}},
"color": {"field": "ch", "type": "nominal", "scale": {"domain": ["CH1-FAM", "CH2-HEX", "CH3-ROX", "CH4-Cy5"], "range": ["#2447cc", "#3d9b50", "#f5b73e", "#ef4a22"]},
"legend": {"orient": "none", "legendX": 712, "legendY": -14, "direction": "horizontal", "columns": 4, "title": null, "symbolType": "stroke", "symbolStrokeWidth": 2.5, "symbolSize": 200, "labelFontSize": 7, "labelColor": "#555555", "columnPadding": 5, "labelOffset": 3}},
"detail": {"field": "id"}
}
},
{
"width": 943,
"height": 48,
"data": {"name": "table"},
"encoding": {
"x": {"field": "col", "type": "nominal", "sort": null, "axis": null, "scale": {"paddingInner": 0, "paddingOuter": 0, "range": [-18, 943]}},
"y": {"field": "row", "type": "nominal", "sort": null, "scale": {"paddingInner": 0, "paddingOuter": 0}, "axis": null}
},
"layer": [
{"mark": {"type": "rect", "stroke": "#d9d9d9", "strokeWidth": 1}, "encoding": {"fill": {"field": "row", "type": "nominal", "scale": {"domain": ["h", "r"], "range": ["#a3b8da", "#ffffff"]}, "legend": null}}},
{"mark": {"type": "text", "fontSize": 12, "color": "#444444", "font": "Roboto"}, "encoding": {"text": {"field": "t"}}}
]
}
]
}
